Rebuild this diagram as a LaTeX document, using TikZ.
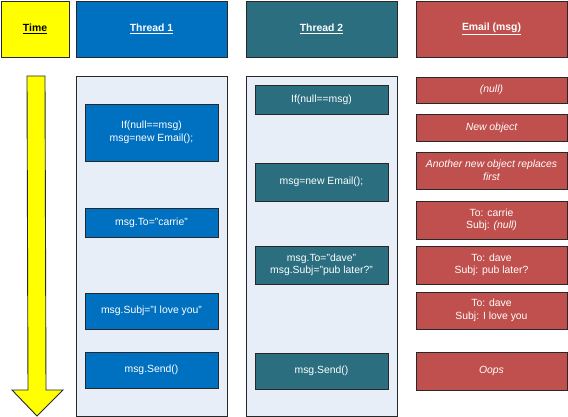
\documentclass[tikz,border=0pt]{standalone}
\usepackage{fontspec}
\setmainfont{Liberation Sans}
\definecolor{timeyellow}{RGB}{255,255,0}
\definecolor{threadblue}{RGB}{0,112,192}
\definecolor{threadteal}{RGB}{42,110,127}
\definecolor{mailred}{RGB}{192,80,77}
\definecolor{lanefill}{RGB}{232,238,247}
\definecolor{edge}{RGB}{40,40,40}
\tikzset{
  cell/.style={draw=edge, line width=0.9pt, inner sep=0pt, align=center, font=\fontsize{10.4}{12.5}\selectfont},
  head/.style={cell, text=white, font=\fontsize{10.4}{12.5}\selectfont\bfseries},
  t1box/.style={cell, fill=threadblue, text=white},
  t2box/.style={cell, fill=threadteal, text=white},
  mailbox/.style={cell, fill=mailred, text=white},
  lane/.style={cell, fill=lanefill},
}
\begin{document}
\begin{tikzpicture}[x=1pt,y=-1pt]
\useasboundingbox (0,0) rectangle (568,417);
% box from (x1,y1) to (x2,y2) in pixels of the page
\newcommand{\cellbox}[7]{
  \node[#1, minimum width={(#5-#3)*1pt}, minimum height={(#6-#4)*1pt}]
    (#2) at ({(#3+#5)/2},{(#4+#6)/2}) {#7};
}

% column heads
\cellbox{head, fill=timeyellow, text=black}{time}{1}{1}{69}{57}{\underline{Time}}
\cellbox{head, fill=threadblue}{thread1}{76}{1}{227}{57}{\underline{Thread 1}}
\cellbox{head, fill=threadteal}{thread2}{246}{1}{397}{57}{\underline{Thread 2}}
\cellbox{head, fill=mailred}{email}{416}{1}{567}{57}{\underline{Email (msg)}}

% time arrow
\draw[draw=edge, line width=0.9pt, fill=timeyellow]
  (27,76) -- (45,76) -- (46,390) -- (63,390) -- (37,416) -- (12,390) -- (28,390) -- cycle;

% swim lanes
\cellbox{lane}{lane1}{76}{76}{227}{416}{}
\cellbox{lane}{lane2}{246}{76}{397}{416}{}

% thread 1
\cellbox{t1box}{a1}{85}{104}{218}{161}{If(null==msg)\\msg=new Email();}
\cellbox{t1box}{a2}{85}{208}{218}{237}{msg.To="carrie"}
\cellbox{t1box}{a3}{85}{293}{218}{329}{msg.Subj="I love you"}
\cellbox{t1box}{a4}{85}{352}{218}{388}{msg.Send()}

% thread 2
\cellbox{t2box}{b1}{255}{85}{388}{114}{If(null==msg)}
\cellbox{t2box}{b2}{255}{163}{388}{201}{msg=new Email();}
\cellbox{t2box}{b3}{255}{246}{388}{284}{msg.To="dave"\\msg.Subj="pub later?"}
\cellbox{t2box}{b4}{255}{353}{388}{389}{msg.Send()}

% state of the email object
\cellbox{mailbox}{m1}{416}{77}{567}{103}{\itshape (null)}
\cellbox{mailbox}{m2}{416}{114}{567}{141}{\itshape New object}
\cellbox{mailbox}{m3}{416}{152}{567}{189}{\itshape Another new object replaces\\\itshape first}
\cellbox{mailbox}{m4}{416}{201}{567}{239}{To: carrie\\Subj: \textit{(null)}}
\cellbox{mailbox}{m5}{416}{246}{567}{284}{To: dave\\Subj: pub later?}
\cellbox{mailbox}{m6}{416}{292}{567}{329}{To: dave\\Subj: I love you}
\cellbox{mailbox}{m7}{416}{352}{567}{390}{\itshape Oops}
\end{tikzpicture}
\end{document}
